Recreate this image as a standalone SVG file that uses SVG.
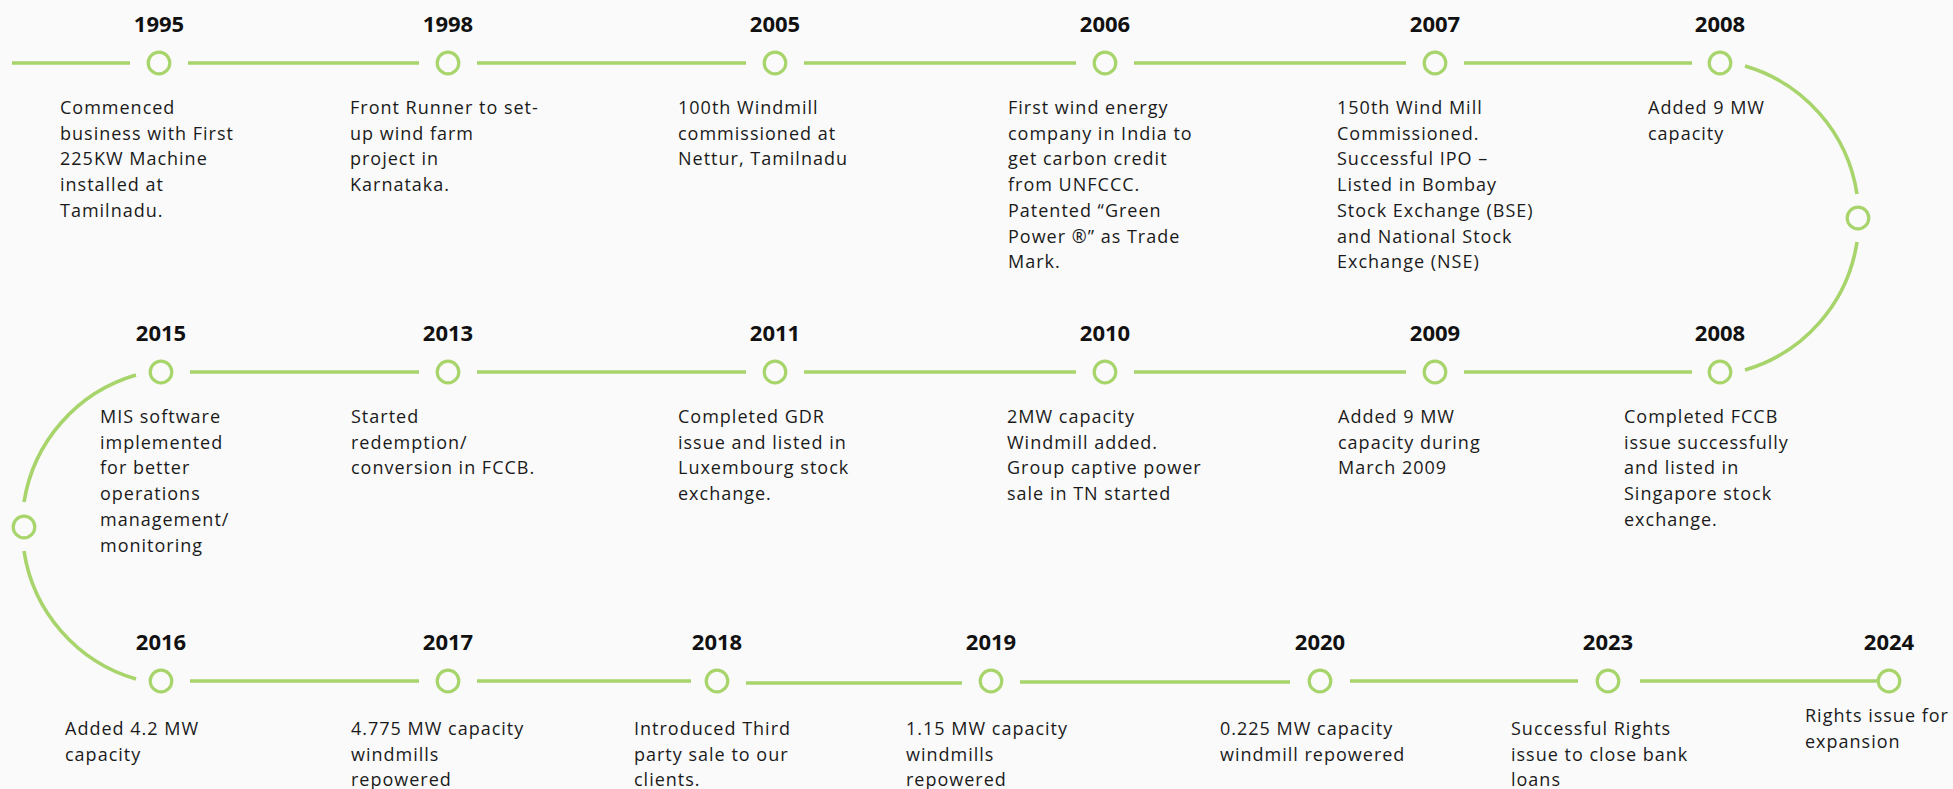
<svg xmlns="http://www.w3.org/2000/svg" width="1953" height="789" viewBox="0 0 1953 789">
<style>
.bg{fill:#fafafa}
.ln{fill:none;stroke:#a8d46c;stroke-width:3.6;stroke-linecap:butt}
.dot{fill:#fafafa;stroke:#a8d46c;stroke-width:3.2}
.yr{font-family:"Open Sans","Liberation Sans",sans-serif;font-weight:700;font-size:22px;fill:#111;text-anchor:middle}
.tx{font-family:"Open Sans","Liberation Sans",sans-serif;font-size:18px;letter-spacing:1px;fill:#1a1a1a}
</style>
<rect class="bg" x="0" y="0" width="1953" height="789"/>
<g id="connectors">
<path class="ln" d="M12 63H130M188 63H419M477 63H746M804 63H1076M1134 63H1406M1464 63H1692"/>
<path class="ln" d="M1745 66A158 158 0 0 1 1857 194M1857 242A158 158 0 0 1 1745 370"/>
<path class="ln" d="M190 372H419M477 372H746M804 372H1076M1134 372H1406M1464 372H1692"/>
<path class="ln" d="M136 375A158 158 0 0 0 24 502M24 551A158 158 0 0 0 136 679"/>
<path class="ln" d="M190 681H419M477 681H691M746 683H962M1020 682H1290M1350 681H1578M1640 681H1878"/>
</g>
<g id="n1995"><circle class="dot" cx="159" cy="63" r="10.8"/><text class="yr" x="159" y="32">1995</text>
<text class="tx" x="60" y="114"><tspan x="60">Commenced</tspan><tspan x="60" dy="25.7">business with First</tspan><tspan x="60" dy="25.7">225KW Machine</tspan><tspan x="60" dy="25.7">installed at</tspan><tspan x="60" dy="25.7">Tamilnadu.</tspan></text></g>
<g id="n1998"><circle class="dot" cx="448" cy="63" r="10.8"/><text class="yr" x="448" y="32">1998</text>
<text class="tx" x="350" y="114"><tspan x="350">Front Runner to set-</tspan><tspan x="350" dy="25.7">up wind farm</tspan><tspan x="350" dy="25.7">project in</tspan><tspan x="350" dy="25.7">Karnataka.</tspan></text></g>
<g id="n2005"><circle class="dot" cx="775" cy="63" r="10.8"/><text class="yr" x="775" y="32">2005</text>
<text class="tx" x="678" y="114"><tspan x="678">100th Windmill</tspan><tspan x="678" dy="25.7">commissioned at</tspan><tspan x="678" dy="25.7">Nettur, Tamilnadu</tspan></text></g>
<g id="n2006"><circle class="dot" cx="1105" cy="63" r="10.8"/><text class="yr" x="1105" y="32">2006</text>
<text class="tx" x="1008" y="114"><tspan x="1008">First wind energy</tspan><tspan x="1008" dy="25.7">company in India to</tspan><tspan x="1008" dy="25.7">get carbon credit</tspan><tspan x="1008" dy="25.7">from UNFCCC.</tspan><tspan x="1008" dy="25.7">Patented “Green</tspan><tspan x="1008" dy="25.7">Power ®” as Trade</tspan><tspan x="1008" dy="25.7">Mark.</tspan></text></g>
<g id="n2007"><circle class="dot" cx="1435" cy="63" r="10.8"/><text class="yr" x="1435" y="32">2007</text>
<text class="tx" x="1337" y="114"><tspan x="1337">150th Wind Mill</tspan><tspan x="1337" dy="25.7">Commissioned.</tspan><tspan x="1337" dy="25.7">Successful IPO –</tspan><tspan x="1337" dy="25.7">Listed in Bombay</tspan><tspan x="1337" dy="25.7">Stock Exchange (BSE)</tspan><tspan x="1337" dy="25.7">and National Stock</tspan><tspan x="1337" dy="25.7">Exchange (NSE)</tspan></text></g>
<g id="n2008a"><circle class="dot" cx="1720" cy="63" r="10.8"/><text class="yr" x="1720" y="32">2008</text>
<text class="tx" x="1648" y="114"><tspan x="1648">Added 9 MW</tspan><tspan x="1648" dy="25.7">capacity</tspan></text></g>
<g id="turn-right"><circle class="dot" cx="1858" cy="218" r="10.8"/></g>
<g id="n2008b"><circle class="dot" cx="1720" cy="372" r="10.8"/><text class="yr" x="1720" y="341">2008</text>
<text class="tx" x="1624" y="423"><tspan x="1624">Completed FCCB</tspan><tspan x="1624" dy="25.7">issue successfully</tspan><tspan x="1624" dy="25.7">and listed in</tspan><tspan x="1624" dy="25.7">Singapore stock</tspan><tspan x="1624" dy="25.7">exchange.</tspan></text></g>
<g id="n2009"><circle class="dot" cx="1435" cy="372" r="10.8"/><text class="yr" x="1435" y="341">2009</text>
<text class="tx" x="1338" y="423"><tspan x="1338">Added 9 MW</tspan><tspan x="1338" dy="25.7">capacity during</tspan><tspan x="1338" dy="25.7">March 2009</tspan></text></g>
<g id="n2010"><circle class="dot" cx="1105" cy="372" r="10.8"/><text class="yr" x="1105" y="341">2010</text>
<text class="tx" x="1007" y="423"><tspan x="1007">2MW capacity</tspan><tspan x="1007" dy="25.7">Windmill added.</tspan><tspan x="1007" dy="25.7">Group captive power</tspan><tspan x="1007" dy="25.7">sale in TN started</tspan></text></g>
<g id="n2011"><circle class="dot" cx="775" cy="372" r="10.8"/><text class="yr" x="775" y="341">2011</text>
<text class="tx" x="678" y="423"><tspan x="678">Completed GDR</tspan><tspan x="678" dy="25.7">issue and listed in</tspan><tspan x="678" dy="25.7">Luxembourg stock</tspan><tspan x="678" dy="25.7">exchange.</tspan></text></g>
<g id="n2013"><circle class="dot" cx="448" cy="372" r="10.8"/><text class="yr" x="448" y="341">2013</text>
<text class="tx" x="351" y="423"><tspan x="351">Started</tspan><tspan x="351" dy="25.7">redemption/</tspan><tspan x="351" dy="25.7">conversion in FCCB.</tspan></text></g>
<g id="n2015"><circle class="dot" cx="161" cy="372" r="10.8"/><text class="yr" x="161" y="341">2015</text>
<text class="tx" x="100" y="423"><tspan x="100">MIS software</tspan><tspan x="100" dy="25.7">implemented</tspan><tspan x="100" dy="25.7">for better</tspan><tspan x="100" dy="25.7">operations</tspan><tspan x="100" dy="25.7">management/</tspan><tspan x="100" dy="25.7">monitoring</tspan></text></g>
<g id="turn-left"><circle class="dot" cx="24" cy="527" r="10.8"/></g>
<g id="n2016"><circle class="dot" cx="161" cy="681" r="10.8"/><text class="yr" x="161" y="650">2016</text>
<text class="tx" x="65" y="735"><tspan x="65">Added 4.2 MW</tspan><tspan x="65" dy="25.7">capacity</tspan></text></g>
<g id="n2017"><circle class="dot" cx="448" cy="681" r="10.8"/><text class="yr" x="448" y="650">2017</text>
<text class="tx" x="351" y="735"><tspan x="351">4.775 MW capacity</tspan><tspan x="351" dy="25.7">windmills</tspan><tspan x="351" dy="25.7">repowered</tspan></text></g>
<g id="n2018"><circle class="dot" cx="717" cy="681" r="10.8"/><text class="yr" x="717" y="650">2018</text>
<text class="tx" x="634" y="735"><tspan x="634">Introduced Third</tspan><tspan x="634" dy="25.7">party sale to our</tspan><tspan x="634" dy="25.7">clients.</tspan></text></g>
<g id="n2019"><circle class="dot" cx="991" cy="681" r="10.8"/><text class="yr" x="991" y="650">2019</text>
<text class="tx" x="906" y="735"><tspan x="906">1.15 MW capacity</tspan><tspan x="906" dy="25.7">windmills</tspan><tspan x="906" dy="25.7">repowered</tspan></text></g>
<g id="n2020"><circle class="dot" cx="1320" cy="681" r="10.8"/><text class="yr" x="1320" y="650">2020</text>
<text class="tx" x="1220" y="735"><tspan x="1220">0.225 MW capacity</tspan><tspan x="1220" dy="25.7">windmill repowered</tspan></text></g>
<g id="n2023"><circle class="dot" cx="1608" cy="681" r="10.8"/><text class="yr" x="1608" y="650">2023</text>
<text class="tx" x="1511" y="735"><tspan x="1511">Successful Rights</tspan><tspan x="1511" dy="25.7">issue to close bank</tspan><tspan x="1511" dy="25.7">loans</tspan></text></g>
<g id="n2024"><circle class="dot" cx="1889" cy="681" r="10.8"/><text class="yr" x="1889" y="650">2024</text>
<text class="tx" x="1805" y="722"><tspan x="1805">Rights issue for</tspan><tspan x="1805" dy="25.7">expansion</tspan></text></g>
</svg>
